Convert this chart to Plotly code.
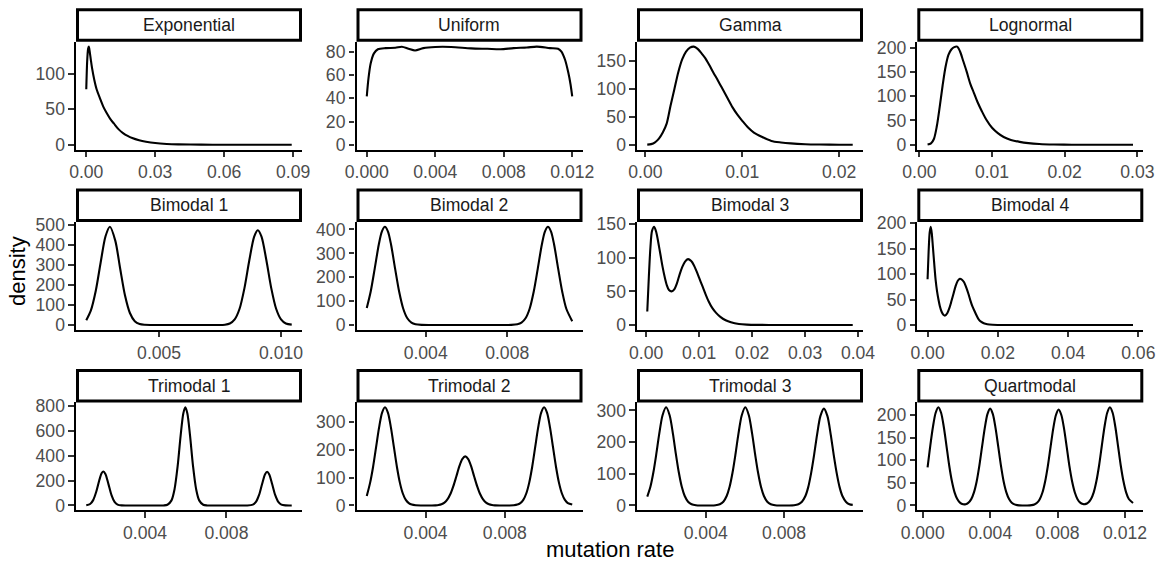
import plotly.graph_objects as go

# ---------------------------------------------------------------------------
# Density curves of the simulated mutation-rate distributions
# ---------------------------------------------------------------------------

panel_titles = ["Exponential", "Uniform", "Gamma", "Lognormal",
                "Bimodal 1", "Bimodal 2", "Bimodal 3", "Bimodal 4",
                "Trimodal 1", "Trimodal 2", "Trimodal 3", "Quartmodal"]

exponential_x = [0.0000, 0.0004, 0.0008, 0.0011, 0.0015, 0.0020, 0.0025, 0.0035, 0.0045, 0.0060,
                 0.0075, 0.0090, 0.0105, 0.0120, 0.0140, 0.0160, 0.0180, 0.0200, 0.0230, 0.0260,
                 0.0300, 0.0350, 0.0400, 0.0500, 0.0600, 0.0700, 0.0800, 0.0894]
exponential_y = [78, 118, 135, 138, 131, 119, 108, 91, 78, 65,
                 53, 44, 36, 30, 22, 16.5, 12.5, 9.5, 6.4, 4.3,
                 2.4, 1.2, 0.6, 0.2, 0.08, 0.03, 0.01, 0.0]

uniform_x = [0.0000, 0.0001, 0.00023, 0.00042, 0.00065, 0.0011, 0.00167, 0.00205, 0.00244, 0.00282,
             0.0033, 0.0040, 0.00493, 0.00609, 0.00705, 0.00781, 0.00858, 0.00935, 0.00993, 0.0107,
             0.01117, 0.01137, 0.01158, 0.01177, 0.0119, 0.0120]
uniform_y = [41.5, 57, 70, 78.5, 82, 83, 83.3, 84.2, 82.5, 81,
             83, 84, 84, 82.8, 82.4, 82, 83, 83.5, 84.3, 83,
             82.5, 80, 73, 62, 52, 41.5]

gamma_x = [0.0002, 0.0006, 0.0010, 0.0014, 0.0018, 0.0022, 0.0026, 0.0030, 0.0034, 0.0038,
           0.0042, 0.0046, 0.0050, 0.0054, 0.0058, 0.0062, 0.0066, 0.0070, 0.0075, 0.0080,
           0.0085, 0.0090, 0.0095, 0.0100, 0.0106, 0.0112, 0.0120, 0.0130, 0.0140, 0.0150,
           0.0165, 0.0180, 0.0200, 0.0214]
gamma_y = [0.3, 1.2, 4.5, 11, 22, 38, 70, 100, 130, 153,
           167, 174, 176, 172, 164, 155, 143, 130, 115, 99,
           83, 67, 54, 43, 31, 22, 14.5, 7, 4.2, 2.5,
           1.1, 0.5, 0.15, 0.05]

lognormal_x = [0.00113, 0.0016, 0.0020, 0.0024, 0.0028, 0.0032, 0.0036, 0.0040, 0.0044, 0.0048,
               0.0052, 0.0056, 0.0060, 0.0065, 0.0070, 0.0075, 0.0080, 0.0086, 0.0092, 0.0100,
               0.0108, 0.0116, 0.0126, 0.0138, 0.0150, 0.0165, 0.0185, 0.0210, 0.0250, 0.0294]
lognormal_y = [0.5, 3, 12, 38, 78, 122, 160, 185, 196, 201,
               202, 192, 174, 151, 126, 107, 88, 69, 52, 35,
               24, 16, 10, 6, 3.4, 1.6, 0.6, 0.2, 0.05, 0.0]

bimodal1_x = [0.00201, 0.0022, 0.0024, 0.0026, 0.0028, 0.00298, 0.0032, 0.0034, 0.0036, 0.0038,
              0.0040, 0.0042, 0.0044, 0.0047, 0.0055, 0.0065, 0.0074, 0.0077, 0.0079, 0.0081,
              0.0083, 0.0085, 0.0087, 0.0089, 0.00905, 0.0092, 0.0094, 0.0096, 0.0098, 0.0100,
              0.0102, 0.01044]
bimodal1_y = [24, 73, 171, 312, 443, 490, 421, 282, 147, 60,
              19, 4.7, 0.9, 0.05, 0, 0, 0.1, 1.6, 7.6, 28,
              81, 184, 323, 441, 473, 441, 323, 184, 81, 28,
              7.6, 2]

bimodal2_x = [0.00111, 0.0013, 0.0015, 0.0017, 0.00185, 0.0020, 0.00215, 0.0023, 0.0025, 0.0027,
              0.0029, 0.0031, 0.0033, 0.0035, 0.0038, 0.0045, 0.0060, 0.0075, 0.0082, 0.0085,
              0.0087, 0.0089, 0.0091, 0.0093, 0.0095, 0.0097, 0.00985, 0.0100, 0.01015, 0.0103,
              0.0105, 0.0107, 0.0109, 0.01119]
bimodal2_y = [71, 139, 236, 337, 391, 411, 391, 337, 236, 139,
              68, 28, 9.7, 2.8, 0.3, 0, 0, 0, 0.3, 2.8,
              9.7, 28, 68, 139, 236, 337, 391, 411, 391, 337,
              236, 139, 68, 16]

bimodal3_x = [0.0002, 0.0005, 0.0008, 0.0011, 0.0015, 0.0019, 0.0023, 0.0027, 0.0031, 0.0035,
              0.0039, 0.0043, 0.0048, 0.0053, 0.0058, 0.0063, 0.0068, 0.0073, 0.0079, 0.0085,
              0.0090, 0.0095, 0.0100, 0.0106, 0.0112, 0.0118, 0.0125, 0.0132, 0.0140, 0.0150,
              0.0160, 0.0175, 0.0190, 0.0210, 0.0250, 0.0300, 0.0350, 0.0390]
bimodal3_y = [20, 72, 116, 140, 146, 138, 122, 104, 86, 71,
              59, 52, 50, 53, 62, 75, 86, 94, 98, 95,
              89, 80, 70, 58, 46, 35, 25, 18, 12, 7,
              4, 1.5, 0.6, 0.2, 0.05, 0.01, 0, 0]

bimodal4_x = [0.0000, 0.0003, 0.0006, 0.0009, 0.0012, 0.0015, 0.0019, 0.0023, 0.0027, 0.0031,
              0.0035, 0.0040, 0.0045, 0.0050, 0.0056, 0.0062, 0.0068, 0.0074, 0.0080, 0.0086,
              0.0092, 0.0098, 0.0104, 0.0110, 0.0116, 0.0122, 0.0128, 0.0134, 0.0140, 0.0146,
              0.0152, 0.0160, 0.0170, 0.0185, 0.0200, 0.0250, 0.0350, 0.0450, 0.0585]
bimodal4_y = [90, 145, 182, 193, 180, 155, 120, 88, 66, 50,
              37, 26, 20, 18.5, 23, 33, 47, 62, 77, 87,
              91, 89, 84, 74, 62, 48, 36, 27, 18, 10.5,
              6.5, 3.3, 1.4, 0.4, 0.1, 0, 0, 0, 0]

trimodal1_x = [0.00111, 0.0013, 0.00145, 0.0016, 0.00175, 0.00187, 0.00195, 0.00205, 0.0022, 0.00235,
               0.0025, 0.00265, 0.00285, 0.0032, 0.0042, 0.0049, 0.0051, 0.0053, 0.00545, 0.0056,
               0.00575, 0.00588, 0.00598, 0.00608, 0.00621, 0.00636, 0.00651, 0.00666, 0.00686, 0.00706,
               0.0075, 0.0085, 0.0090, 0.0093, 0.00945, 0.0096, 0.00975, 0.0099, 0.0100, 0.0101,
               0.01025, 0.0104, 0.01055, 0.0107, 0.0109, 0.01121]
trimodal1_y = [2, 12, 43, 110, 202, 260, 272, 253, 171, 83,
               29, 7.3, 0.7, 0, 0, 0.5, 5.6, 41, 131, 313,
               562, 738, 787, 738, 562, 313, 131, 41, 5.6, 0.5,
               0, 0, 0.2, 7.2, 29, 83, 170, 251, 270, 251,
               170, 83, 29, 7.2, 0.7, 0]

trimodal2_x = [0.00103, 0.0012, 0.00135, 0.0015, 0.00165, 0.0018, 0.00195, 0.0021, 0.00225, 0.0024,
               0.00255, 0.0027, 0.00285, 0.0030, 0.00315, 0.0033, 0.0035, 0.0038, 0.0041, 0.0043,
               0.0045, 0.00465, 0.0048, 0.00495, 0.0051, 0.00525, 0.0054, 0.00555, 0.0057, 0.00585,
               0.0060, 0.00615, 0.0063, 0.00645, 0.0066, 0.00675, 0.0069, 0.00705, 0.0072, 0.00735,
               0.0075, 0.0078, 0.0082, 0.00845, 0.00863, 0.00878, 0.00893, 0.00908, 0.00923, 0.00938,
               0.00953, 0.00968, 0.00983, 0.00998, 0.01013, 0.01028, 0.01043, 0.01058, 0.01073, 0.01088,
               0.01103, 0.01118, 0.0114]
trimodal2_y = [34, 82, 139, 209, 279, 332, 352, 332, 279, 209,
               139, 82, 43, 20, 8.6, 3.2, 0.7, 0.1, 0.05, 0.1,
               0.5, 1.6, 4.3, 10.2, 21.6, 41, 69.5, 104, 140, 166,
               176, 166, 140, 104, 69.5, 41, 21.6, 10.2, 4.3, 1.6,
               0.5, 0.1, 0.1, 0.8, 3.2, 8.6, 20, 43, 82, 139,
               209, 279, 332, 352, 332, 279, 209, 139, 82, 43,
               20, 8.6, 3.5]

trimodal3_x = [0.00102, 0.00118, 0.00133, 0.00148, 0.00163, 0.0018, 0.00198, 0.00216, 0.00233, 0.00248,
               0.00263, 0.00278, 0.00293, 0.0031, 0.00328, 0.0035, 0.0038, 0.0042, 0.0045, 0.00472,
               0.0049, 0.00507, 0.00522, 0.00537, 0.00552, 0.00567, 0.00584, 0.00602, 0.0062, 0.00637,
               0.00652, 0.00667, 0.00682, 0.00697, 0.00714, 0.00732, 0.00754, 0.00785, 0.0082, 0.00851,
               0.00873, 0.00891, 0.00908, 0.00923, 0.00938, 0.00953, 0.00968, 0.00985, 0.01003, 0.01021,
               0.01038, 0.01053, 0.01068, 0.01083, 0.01098, 0.01115, 0.01133, 0.0115]
trimodal3_y = [28, 59, 104, 162, 226, 285, 310, 285, 226, 162,
               104, 59, 30, 12, 4, 0.8, 0.1, 0.1, 0.8, 4,
               12, 30, 59, 104, 162, 226, 285, 310, 285, 226,
               162, 104, 59, 30, 12, 4, 0.8, 0.1, 0.1, 0.8,
               3.9, 12, 29, 58, 103, 160, 223, 282, 306, 282,
               223, 160, 103, 58, 29, 12, 3.9, 2]

quartmodal_x = [0.00029, 0.00045, 0.00061, 0.00077, 0.00093, 0.00109, 0.00125, 0.00141, 0.00157, 0.00173,
                0.00189, 0.00205, 0.00221, 0.0024, 0.00255, 0.0027, 0.00288, 0.00304, 0.0032, 0.00336,
                0.00352, 0.00368, 0.00384, 0.0040, 0.00416, 0.00432, 0.00448, 0.00464, 0.0048, 0.00496,
                0.00512, 0.00528, 0.00544, 0.0056, 0.0059, 0.0062, 0.00646, 0.00662, 0.00678, 0.00694,
                0.0071, 0.00726, 0.00742, 0.00758, 0.00774, 0.0079, 0.00806, 0.00822, 0.00838, 0.00854,
                0.0087, 0.00886, 0.00902, 0.00918, 0.00934, 0.0095, 0.00962, 0.00974, 0.00982, 0.00998,
                0.01014, 0.0103, 0.01046, 0.01062, 0.01078, 0.01094, 0.0111, 0.01126, 0.01142, 0.01158,
                0.01174, 0.0119, 0.01206, 0.01222, 0.01247]
quartmodal_y = [84, 132, 174, 205, 217, 205, 174, 132, 89, 54,
                29, 14.3, 6.4, 2.8, 2.9, 5.7, 14.1, 29, 53, 88,
                130, 171, 202, 214, 202, 171, 130, 88, 53, 29,
                14.1, 6.1, 2.4, 0.8, 0.1, 0.1, 0.8, 2.4, 6, 14,
                28.6, 53, 87, 129, 170, 200, 212, 200, 170, 129,
                87, 53, 28.8, 14, 6.3, 3.2, 2.95, 4.4, 6.4, 14.3,
                29, 54, 89, 132, 174, 205, 217, 205, 174, 132,
                89, 54, 29, 14.3, 5.5]

# Tick positions and labels for every panel (scales are free per facet)
x_ticks = [[0, 0.03, 0.06, 0.09], [0, 0.004, 0.008, 0.012], [0, 0.01, 0.02], [0, 0.01, 0.02, 0.03],
           [0.005, 0.010], [0.004, 0.008], [0, 0.01, 0.02, 0.03, 0.04], [0, 0.02, 0.04, 0.06],
           [0.004, 0.008], [0.004, 0.008], [0.004, 0.008], [0, 0.004, 0.008, 0.012]]
x_tick_labels = [["0.00", "0.03", "0.06", "0.09"], ["0.000", "0.004", "0.008", "0.012"],
                 ["0.00", "0.01", "0.02"], ["0.00", "0.01", "0.02", "0.03"],
                 ["0.005", "0.010"], ["0.004", "0.008"], ["0.00", "0.01", "0.02", "0.03", "0.04"],
                 ["0.00", "0.02", "0.04", "0.06"], ["0.004", "0.008"], ["0.004", "0.008"],
                 ["0.004", "0.008"], ["0.000", "0.004", "0.008", "0.012"]]
y_ticks = [[0, 50, 100], [0, 20, 40, 60, 80], [0, 50, 100, 150], [0, 50, 100, 150, 200],
           [0, 100, 200, 300, 400, 500], [0, 100, 200, 300, 400], [0, 50, 100, 150], [0, 50, 100, 150, 200],
           [0, 200, 400, 600, 800], [0, 100, 200, 300], [0, 100, 200, 300], [0, 50, 100, 150, 200]]

curves = [(exponential_x, exponential_y), (uniform_x, uniform_y), (gamma_x, gamma_y),
          (lognormal_x, lognormal_y), (bimodal1_x, bimodal1_y), (bimodal2_x, bimodal2_y),
          (bimodal3_x, bimodal3_y), (bimodal4_x, bimodal4_y), (trimodal1_x, trimodal1_y),
          (trimodal2_x, trimodal2_y), (trimodal3_x, trimodal3_y), (quartmodal_x, quartmodal_y)]

# ---------------------------------------------------------------------------
# Page geometry (pixels)
# ---------------------------------------------------------------------------
FIG_W, FIG_H = 1163, 567
COL_LEFT = [76.0, 356.5, 637.0, 917.3]
PANEL_W = 226.0
STRIP_TOP = [8.3, 188.5, 369.0]
STRIP_H = 33.4
PANEL_H = 108.0
STRIP_LW = 3.0

FONT = "Liberation Sans, Arial, Helvetica, sans-serif"

axis_style = dict(
    showline=True, linecolor="black", linewidth=2.1, mirror=False,
    ticks="outside", ticklen=5.5, tickwidth=2.1, tickcolor="#333333",
    showgrid=False, zeroline=False, fixedrange=True, automargin=False,
    tickfont=dict(family=FONT, size=17.6, color="#4D4D4D"),
)

fig = go.Figure()
layout = {}
shapes = []
annotations = []

for i, (title, (xs, ys)) in enumerate(zip(panel_titles, curves)):
    row, col = divmod(i, 4)
    suffix = "" if i == 0 else str(i + 1)
    left = COL_LEFT[col]
    right = left + PANEL_W
    strip_top = STRIP_TOP[row]
    top = strip_top + STRIP_H
    bottom = top + PANEL_H

    fig.add_trace(go.Scatter(
        x=xs, y=ys, mode="lines",
        line=dict(color="black", width=2.1, shape="spline", smoothing=0.8),
        xaxis="x" + suffix, yaxis="y" + suffix,
        hoverinfo="skip", showlegend=False,
    ))

    x_lo, x_hi = min(xs), max(xs)
    x_pad = 0.05 * (x_hi - x_lo)
    y_hi = max(ys)

    layout["xaxis" + suffix] = dict(
        domain=[left / FIG_W, right / FIG_W], anchor="y" + suffix,
        range=[x_lo - x_pad, x_hi + x_pad],
        tickmode="array", tickvals=x_ticks[i], ticktext=x_tick_labels[i],
        **axis_style,
    )
    layout["yaxis" + suffix] = dict(
        domain=[1 - bottom / FIG_H, 1 - top / FIG_H], anchor="x" + suffix,
        range=[-0.05 * y_hi, 1.05 * y_hi],
        tickmode="array", tickvals=y_ticks[i], ticktext=[str(v) for v in y_ticks[i]],
        **axis_style,
    )

    # facet strip
    half = STRIP_LW / 2
    shapes.append(dict(
        type="rect", xref="paper", yref="paper",
        x0=(left + half) / FIG_W, x1=(right - half) / FIG_W,
        y0=1 - (top - half) / FIG_H, y1=1 - (strip_top + half) / FIG_H,
        line=dict(color="black", width=STRIP_LW), fillcolor="white", layer="above",
    ))
    annotations.append(dict(
        text=title, xref="paper", yref="paper",
        x=(left + right) / 2 / FIG_W, y=1 - (strip_top + STRIP_H / 2) / FIG_H,
        xanchor="center", yanchor="middle", showarrow=False,
        font=dict(family=FONT, size=17.6, color="#1A1A1A"),
    ))

annotations.append(dict(
    text="mutation rate", xref="paper", yref="paper",
    x=(COL_LEFT[0] + COL_LEFT[3] + PANEL_W) / 2 / FIG_W, y=1 - 549 / FIG_H,
    xanchor="center", yanchor="middle", showarrow=False,
    font=dict(family=FONT, size=22, color="black"),
))
annotations.append(dict(
    text="density", xref="paper", yref="paper",
    x=17 / FIG_W, y=1 - 271 / FIG_H, textangle=-90,
    xanchor="center", yanchor="middle", showarrow=False,
    font=dict(family=FONT, size=22, color="black"),
))

fig.update_layout(
    template="none",
    width=FIG_W, height=FIG_H,
    margin=dict(l=0, r=0, t=0, b=0, pad=0, autoexpand=False),
    paper_bgcolor="white", plot_bgcolor="white",
    showlegend=False,
    shapes=shapes, annotations=annotations,
    **layout,
)

fig.write_html("out.html", config={"displayModeBar": False})
